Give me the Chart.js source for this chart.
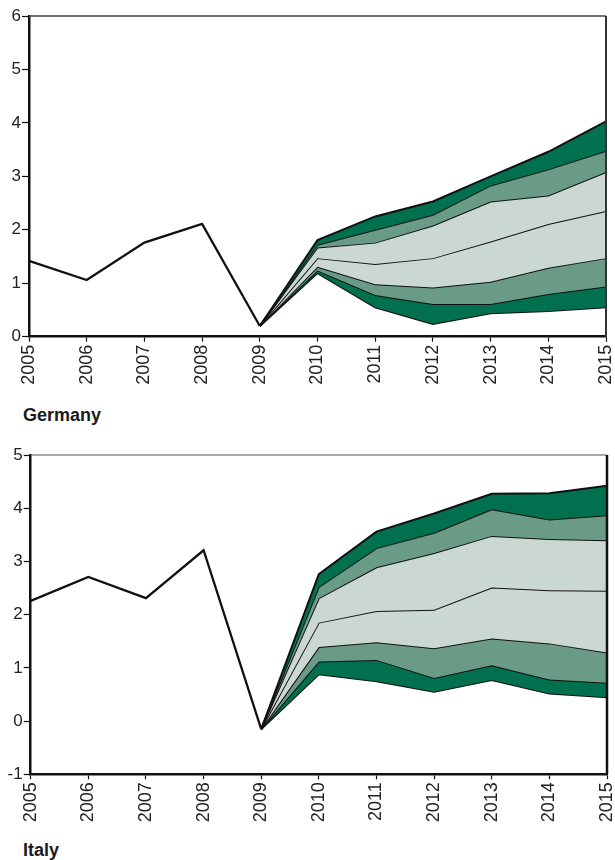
<!DOCTYPE html>
<html>
<head>
<meta charset="utf-8">
<script src="https://cdn.jsdelivr.net/npm/chart.js@4"></script>
<style>
  html, body { margin: 0; padding: 0; background: #fff; }
  body { width: 615px; height: 860px; position: relative; overflow: hidden;
         font-family: "Liberation Sans", Arial, sans-serif; }
  .box { position: absolute; left: 0; width: 615px; height: 400px; }
  .caption { position: absolute; left: 23px; font-weight: bold; font-size: 18px;
             color: #1a1a1a; line-height: 18px; }
</style>
</head>
<body>
<div class="box" style="top:0"><canvas id="de"></canvas></div>
<div class="caption" style="top:406px">Germany</div>
<div class="box" style="top:430px"><canvas id="it"></canvas></div>
<div class="caption" style="top:841px">Italy</div>
<script>
// Years on the horizontal axis
const years = ['2005','2006','2007','2008','2009','2010','2011','2012','2013','2014','2015'];

// Germany: outturn 2005-2009, projection fan 2009-2015
const deHist    = [1.42, 1.06, 1.76, 2.11, 0.20, null, null, null, null, null, null];
const deUpper90 = [null, null, null, null, 0.20, 1.81, 2.25, 2.53, 3.00, 3.46, 4.03];
const deUpper60 = [null, null, null, null, 0.20, 1.72, 2.00, 2.28, 2.83, 3.13, 3.48];
const deUpper30 = [null, null, null, null, 0.20, 1.67, 1.76, 2.08, 2.53, 2.64, 3.08];
const deMedian  = [null, null, null, null, 0.20, 1.47, 1.36, 1.47, 1.78, 2.11, 2.35];
const deLower30 = [null, null, null, null, 0.20, 1.31, 0.98, 0.92, 1.03, 1.29, 1.47];
const deLower60 = [null, null, null, null, 0.20, 1.24, 0.78, 0.61, 0.61, 0.80, 0.94];
const deLower90 = [null, null, null, null, 0.20, 1.19, 0.55, 0.24, 0.44, 0.48, 0.55];

// Italy: outturn 2005-2009, projection fan 2009-2015
const itHist    = [2.26, 2.71, 2.31, 3.21, -0.15, null, null, null, null, null, null];
const itUpper90 = [null, null, null, null, -0.15, 2.76, 3.56, 3.90, 4.27, 4.28, 4.42];
const itUpper60 = [null, null, null, null, -0.15, 2.52, 3.25, 3.54, 3.98, 3.79, 3.87];
const itUpper30 = [null, null, null, null, -0.15, 2.31, 2.89, 3.16, 3.48, 3.42, 3.40];
const itMedian  = [null, null, null, null, -0.15, 1.85, 2.07, 2.09, 2.51, 2.46, 2.45];
const itLower30 = [null, null, null, null, -0.15, 1.39, 1.48, 1.37, 1.55, 1.46, 1.29];
const itLower60 = [null, null, null, null, -0.15, 1.12, 1.15, 0.81, 1.05, 0.78, 0.72];
const itLower90 = [null, null, null, null, -0.15, 0.88, 0.75, 0.55, 0.77, 0.52, 0.45];

// Tick labels for the value axes
const deTicks = ['0','1','2','3','4','5','6'];
const itTicks = ['-1','0','1','2','3','4','5'];

const DARK = '#00704f';
const MID = '#6a9b86';
const LIGHT = '#cbd7d1';

Chart.defaults.font.family = '"Liberation Sans", Arial, sans-serif';
Chart.defaults.color = '#222';

// Thin frame on the top and right of the plot area
const framePlugin = {
  id: 'frame',
  afterDraw(chart, args, opts) {
    const a = chart.chartArea, ctx = chart.ctx;
    ctx.save();
    ctx.strokeStyle = opts.topColor;
    ctx.lineWidth = opts.topWidth;
    ctx.beginPath();
    ctx.moveTo(a.left, a.top);
    ctx.lineTo(a.right, a.top);
    ctx.stroke();
    ctx.strokeStyle = opts.rightColor;
    ctx.lineWidth = opts.rightWidth;
    ctx.beginPath();
    ctx.moveTo(a.right, a.top);
    ctx.lineTo(a.right, a.bottom);
    ctx.stroke();
    ctx.restore();
  }
};

function fanLine(data, fillColor) {
  return {
    data,
    borderColor: '#111',
    borderWidth: 2,
    pointRadius: 0,
    tension: 0,
    fill: fillColor ? '+1' : false,
    backgroundColor: fillColor || 'transparent'
  };
}

function makeChart(id, hist, lines, tickLabels, g) {
  const yMin = Number(tickLabels[0]);
  const yMax = Number(tickLabels[tickLabels.length - 1]);
  new Chart(document.getElementById(id), {
    type: 'line',
    data: {
      labels: years,
      datasets: [
        { data: hist, borderColor: '#111', borderWidth: 2.3, pointRadius: 0, tension: 0, fill: false },
        fanLine(lines[0], DARK),
        fanLine(lines[1], MID),
        fanLine(lines[2], LIGHT),
        fanLine(lines[3], LIGHT),
        fanLine(lines[4], MID),
        fanLine(lines[5], DARK),
        fanLine(lines[6], null)
      ]
    },
    options: {
      responsive: true,
      maintainAspectRatio: false,
      animation: false,
      layout: { padding: { top: g.top, right: g.right, left: 0, bottom: 0 } },
      plugins: {
        legend: { display: false },
        tooltip: { enabled: false },
        frame: g.frame
      },
      scales: {
        x: {
          offset: false,
          grid: { drawOnChartArea: false, tickLength: 5, tickColor: '#111', tickWidth: 1.2 },
          border: { color: '#111', width: 2.5 },
          ticks: { maxRotation: 90, minRotation: 90, padding: 3, autoSkip: false,
                   font: { size: 18 }, color: '#222' },
          afterFit(scale) {
            scale.height = g.xHeight;
            scale.paddingLeft = 0;
            scale.paddingRight = 0;
          }
        },
        y: {
          min: yMin, max: yMax,
          grid: { drawOnChartArea: false, tickLength: 7, tickColor: '#111', tickWidth: 1.2 },
          border: { color: '#111', width: 2.5 },
          ticks: { stepSize: 1, padding: 1, font: { size: 17 }, color: '#222',
                   callback: (v) => tickLabels[tickLabels.indexOf(String(v))] ?? String(v) },
          afterFit(scale) {
            scale.width = g.yWidth;
            scale.paddingTop = 0;
            scale.paddingBottom = 0;
          }
        }
      }
    },
    plugins: [framePlugin]
  });
}

makeChart('de', deHist,
  [deUpper90, deUpper60, deUpper30, deMedian, deLower30, deLower60, deLower90],
  deTicks,
  { top: 16, right: 9, yWidth: 29, xHeight: 63.3,
    frame: { topColor: '#444', topWidth: 1.4, rightColor: '#333', rightWidth: 2 } });

makeChart('it', itHist,
  [itUpper90, itUpper60, itUpper30, itMedian, itLower30, itLower60, itLower90],
  itTicks,
  { top: 25, right: 8, yWidth: 30.7, xHeight: 55.7,
    frame: { topColor: '#555', topWidth: 1.2, rightColor: '#111', rightWidth: 2.5 } });
</script>
</body>
</html>
